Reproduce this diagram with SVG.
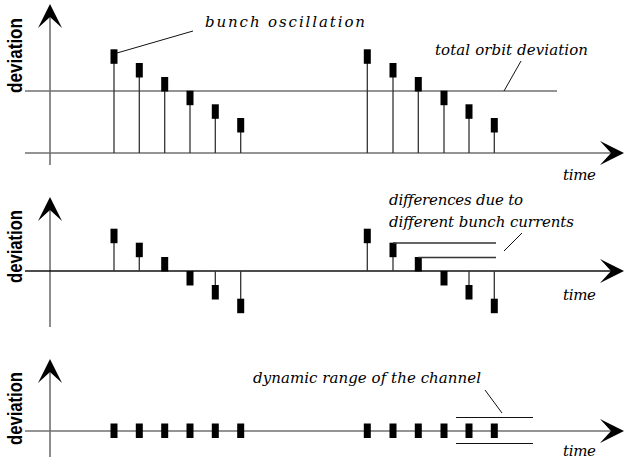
<svg xmlns="http://www.w3.org/2000/svg" xmlns:xlink="http://www.w3.org/1999/xlink" width="625" height="461" viewBox="0 0 625 461">
<style>
.ax{stroke:#707070;stroke-width:1.6;fill:none}
.axb{stroke:#111;stroke-width:1.4;fill:none}
.st{stroke:#333;stroke-width:1.3;fill:none}
.ld{stroke:#111;stroke-width:1;fill:none}
.bar{fill:#000}
.yl{font-family:'Liberation Sans',sans-serif;font-weight:bold;font-size:20px;fill:#000}
</style>
<defs>
<path id="ah" d="M0,0 L12,24 L0,13 L-12,24 Z" fill="#000"/>
<rect id="b" x="-3.5" y="0" width="7" height="14.5" class="bar"/>
</defs>
<rect width="625" height="461" fill="#fff"/>

<g id="panel-top">
<g id="top-axes">
<line class="ax" x1="50" y1="10" x2="50" y2="165"/>
<line class="ax" x1="25" y1="153" x2="616" y2="153"/>
<line class="ax" x1="25" y1="91" x2="557" y2="91"/>
<use xlink:href="#ah" transform="translate(50,4)"/>
<use xlink:href="#ah" transform="translate(624,153) rotate(90)"/>
<text class="yl" transform="translate(22,93) rotate(-90)" textLength="75" lengthAdjust="spacingAndGlyphs">deviation</text>
</g>
<g id="top-bunches">
<line class="st" x1="114" y1="63" x2="114" y2="153"/><use xlink:href="#b" x="114" y="49.3"/>
<line class="st" x1="139.3" y1="77" x2="139.3" y2="153"/><use xlink:href="#b" x="139.3" y="63"/>
<line class="st" x1="164.7" y1="91" x2="164.7" y2="153"/><use xlink:href="#b" x="164.7" y="77"/>
<line class="st" x1="190" y1="104" x2="190" y2="153"/><use xlink:href="#b" x="190" y="90.7"/>
<line class="st" x1="215.3" y1="118" x2="215.3" y2="153"/><use xlink:href="#b" x="215.3" y="104.3"/>
<line class="st" x1="240.7" y1="132" x2="240.7" y2="153"/><use xlink:href="#b" x="240.7" y="118"/>
<line class="st" x1="367.3" y1="63" x2="367.3" y2="153"/><use xlink:href="#b" x="367.3" y="49.3"/>
<line class="st" x1="393" y1="77" x2="393" y2="153"/><use xlink:href="#b" x="393" y="63"/>
<line class="st" x1="418.3" y1="91" x2="418.3" y2="153"/><use xlink:href="#b" x="418.3" y="77"/>
<line class="st" x1="444" y1="104" x2="444" y2="153"/><use xlink:href="#b" x="444" y="90.7"/>
<line class="st" x1="469" y1="118" x2="469" y2="153"/><use xlink:href="#b" x="469" y="104.3"/>
<line class="st" x1="494.3" y1="132" x2="494.3" y2="153"/><use xlink:href="#b" x="494.3" y="118"/>
</g>
<g id="top-labels">
<line class="ld" x1="117" y1="53" x2="193" y2="31"/>
<line class="ld" x1="521" y1="61" x2="504" y2="91"/>
</g>
</g>

<g id="panel-middle">
<g id="mid-axes">
<line class="ax" x1="50" y1="203" x2="50" y2="327"/>
<line class="axb" x1="25" y1="271" x2="616" y2="271"/>
<use xlink:href="#ah" transform="translate(50,197)"/>
<use xlink:href="#ah" transform="translate(624,271) rotate(90)"/>
<text class="yl" transform="translate(22,283) rotate(-90)" textLength="73" lengthAdjust="spacingAndGlyphs">deviation</text>
</g>
<g id="mid-bunches">
<line class="st" x1="114" y1="243" x2="114" y2="271"/><use xlink:href="#b" x="114" y="228.7"/>
<line class="st" x1="139.3" y1="257" x2="139.3" y2="271"/><use xlink:href="#b" x="139.3" y="242.7"/>
<use xlink:href="#b" x="164.7" y="257"/>
<use xlink:href="#b" x="190" y="271"/>
<line class="st" x1="215.3" y1="271" x2="215.3" y2="285"/><use xlink:href="#b" x="215.3" y="285"/>
<line class="st" x1="240.7" y1="271" x2="240.7" y2="299"/><use xlink:href="#b" x="240.7" y="298.7"/>
<line class="st" x1="367.3" y1="243" x2="367.3" y2="271"/><use xlink:href="#b" x="367.3" y="228.7"/>
<line class="st" x1="393" y1="257" x2="393" y2="271"/><use xlink:href="#b" x="393" y="242.7"/>
<use xlink:href="#b" x="418.3" y="257"/>
<use xlink:href="#b" x="444" y="271"/>
<line class="st" x1="469" y1="271" x2="469" y2="285"/><use xlink:href="#b" x="469" y="285"/>
<line class="st" x1="494.3" y1="271" x2="494.3" y2="299"/><use xlink:href="#b" x="494.3" y="298.7"/>
</g>
<g id="mid-labels">
<line class="st" x1="393" y1="243" x2="496" y2="243"/>
<line class="st" x1="418.3" y1="257.5" x2="496" y2="257.5"/>
<line class="ld" x1="522" y1="233" x2="504" y2="251"/>
</g>
</g>

<g id="panel-bottom">
<g id="bot-axes">
<line class="ax" x1="50" y1="365" x2="50" y2="457"/>
<line class="ax" x1="25" y1="431" x2="616" y2="431"/>
<use xlink:href="#ah" transform="translate(50,359)"/>
<use xlink:href="#ah" transform="translate(624,431) rotate(90)"/>
<text class="yl" transform="translate(22,445) rotate(-90)" textLength="73" lengthAdjust="spacingAndGlyphs">deviation</text>
</g>
<g id="bot-bunches">
<use xlink:href="#b" x="114" y="423.5"/>
<use xlink:href="#b" x="139.3" y="423.5"/>
<use xlink:href="#b" x="164.7" y="423.5"/>
<use xlink:href="#b" x="190" y="423.5"/>
<use xlink:href="#b" x="215.3" y="423.5"/>
<use xlink:href="#b" x="240.7" y="423.5"/>
<use xlink:href="#b" x="367.3" y="423.5"/>
<use xlink:href="#b" x="393" y="423.5"/>
<use xlink:href="#b" x="418.3" y="423.5"/>
<use xlink:href="#b" x="444" y="423.5"/>
<use xlink:href="#b" x="469" y="423.5"/>
<use xlink:href="#b" x="494.3" y="423.5"/>
</g>
<g id="bot-labels">
<line class="ld" x1="456" y1="417.5" x2="533" y2="417.5"/>
<line class="ld" x1="456" y1="443.5" x2="533" y2="443.5"/>
<line class="ld" x1="485" y1="390" x2="502" y2="413"/>
</g>
</g>

<g id="labels" font-family="DejaVu Serif, Liberation Serif, serif" font-style="italic" font-size="15" fill="#000">
<text x="205" y="27" textLength="160" lengthAdjust="spacing">bunch oscillation</text>
<text x="435" y="55" textLength="153" lengthAdjust="spacing">total orbit deviation</text>
<text x="563" y="180" textLength="33" lengthAdjust="spacing">time</text>
<text x="389" y="205" textLength="134" lengthAdjust="spacing">differences due to</text>
<text x="389" y="227" textLength="185" lengthAdjust="spacing">different bunch currents</text>
<text x="563" y="300" textLength="33" lengthAdjust="spacing">time</text>
<text x="253" y="383" textLength="228" lengthAdjust="spacing">dynamic range of the channel</text>
<text x="563" y="456" textLength="33" lengthAdjust="spacing">time</text>
</g>
</svg>
